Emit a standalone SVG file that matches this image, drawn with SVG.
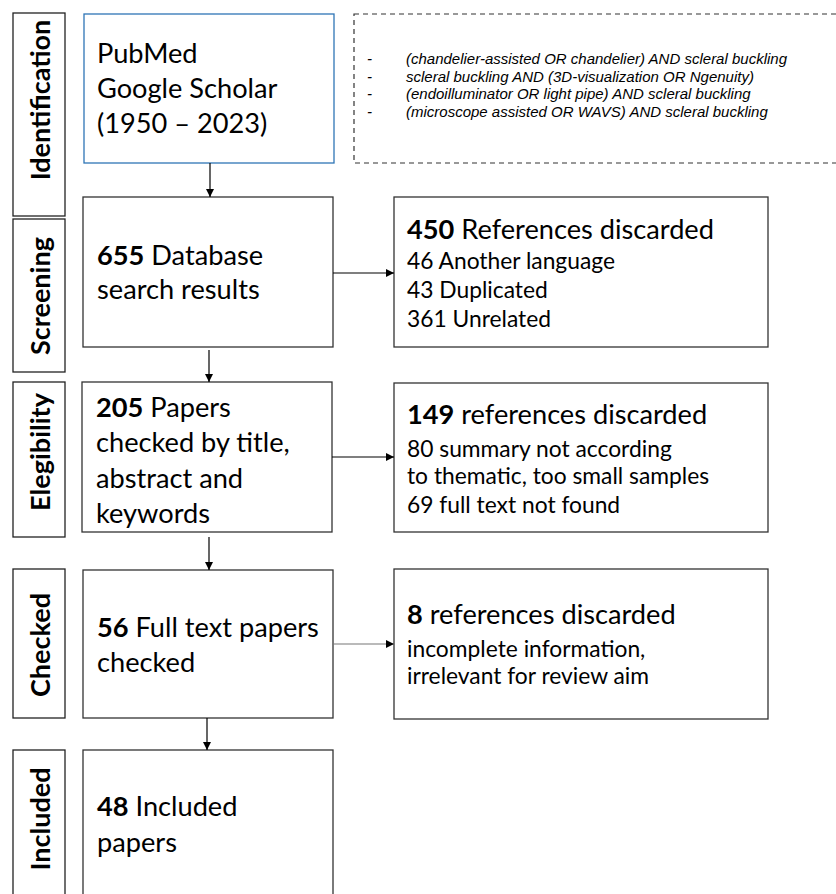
<svg xmlns="http://www.w3.org/2000/svg" width="836" height="894" viewBox="0 0 836 894">
<style>
.lbl{fill:#fff;stroke:#222;stroke-width:1.3}
.box{fill:#fff;stroke:#333;stroke-width:1.3}
.blue{fill:#fff;stroke:#2e75b6;stroke-width:1.3}
.dash{fill:none;stroke:#333;stroke-width:1.2;stroke-dasharray:5,4}
.lt{font-family:Lato,"Liberation Sans",sans-serif;font-weight:bold;font-size:27px;fill:#000}
.t{font-family:Lato,"Liberation Sans",sans-serif;font-size:27.2px;fill:#000}
.s{font-family:Lato,"Liberation Sans",sans-serif;font-size:22.8px;fill:#000}
.q{font-family:"Liberation Sans",Arial,sans-serif;font-size:15px;font-style:italic;fill:#000}
.b{font-weight:bold}
.c{stroke:#000;stroke-width:1.2;fill:none;marker-end:url(#ah)}
</style>
<defs>
<marker id="ah" viewBox="0 0 10 10" refX="10" refY="5" markerWidth="8" markerHeight="8" markerUnits="userSpaceOnUse" orient="auto">
<path d="M0,0 L10,5 L0,10 z" fill="#000"/>
</marker>
</defs>
<rect width="836" height="894" fill="#fff"/>

<g id="label-identification"><rect class="lbl" x="13" y="13" width="52" height="203"/><text class="lt" transform="translate(50,100) rotate(-90)" text-anchor="middle">Identification</text></g>
<g id="label-screening"><rect class="lbl" x="13" y="219" width="52" height="153"/><text class="lt" transform="translate(50,296) rotate(-90)" text-anchor="middle">Screening</text></g>
<g id="label-elegibility"><rect class="lbl" x="13" y="382" width="52" height="155"/><text class="lt" transform="translate(50,452) rotate(-90)" text-anchor="middle">Elegibility</text></g>
<g id="label-checked"><rect class="lbl" x="13" y="569" width="52" height="149"/><text class="lt" transform="translate(50,645) rotate(-90)" text-anchor="middle">Checked</text></g>
<g id="label-included"><rect class="lbl" x="13" y="750" width="52" height="160"/><text class="lt" transform="translate(50,819) rotate(-90)" text-anchor="middle">Included</text></g>

<g id="sources"><rect class="blue" x="84" y="14" width="250" height="149"/>
<text class="t" x="97" y="63">PubMed</text>
<text class="t" x="97" y="98">Google Scholar</text>
<text class="t" x="97" y="133">(1950 – 2023)</text></g>

<g id="search-terms"><rect class="dash" x="354" y="14" width="500" height="149"/>
<text class="q" x="367" y="64">-</text><text class="q" x="406" y="64">(chandelier-assisted OR chandelier) AND scleral buckling</text>
<text class="q" x="367" y="81.5">-</text><text class="q" x="406" y="81.5">scleral buckling AND (3D-visualization OR Ngenuity)</text>
<text class="q" x="367" y="99">-</text><text class="q" x="406" y="99">(endoilluminator OR light pipe) AND scleral buckling</text>
<text class="q" x="367" y="116.5">-</text><text class="q" x="406" y="116.5">(microscope assisted OR WAVS) AND scleral buckling</text></g>

<g id="screening"><rect class="box" x="83" y="197" width="250" height="150"/>
<text class="t" x="97" y="265"><tspan class="b">655</tspan> Database</text>
<text class="t" x="97" y="299">search results</text></g>

<g id="discard-450"><rect class="box" x="394" y="197" width="374" height="150"/>
<text class="t" x="407" y="239"><tspan class="b">450</tspan> References discarded</text>
<text class="s" x="407" y="269">46 Another language</text>
<text class="s" x="407" y="298">43 Duplicated</text>
<text class="s" x="407" y="327">361 Unrelated</text></g>

<g id="eligibility"><rect class="box" x="82" y="382" width="250" height="150"/>
<text class="t" x="96" y="417"><tspan class="b">205</tspan> Papers</text>
<text class="t" x="96" y="452">checked by title,</text>
<text class="t" x="96" y="488">abstract and</text>
<text class="t" x="96" y="523">keywords</text></g>

<g id="discard-149"><rect class="box" x="394" y="383" width="374" height="149"/>
<text class="t" x="407" y="424"><tspan class="b">149</tspan> references discarded</text>
<text class="s" x="407" y="457">80 summary not according</text>
<text class="s" x="407" y="484">to thematic, too small samples</text>
<text class="s" x="407" y="513">69 full text not found</text></g>

<g id="checked"><rect class="box" x="83" y="570" width="250" height="148"/>
<text class="t" x="97" y="637"><tspan class="b">56</tspan> Full text papers</text>
<text class="t" x="97" y="672">checked</text></g>

<g id="discard-8"><rect class="box" x="394" y="569" width="374" height="150"/>
<text class="t" x="407" y="624"><tspan class="b">8</tspan> references discarded</text>
<text class="s" x="407" y="657">incomplete information,</text>
<text class="s" x="407" y="684">irrelevant for review aim</text></g>

<g id="included"><rect class="box" x="83" y="750" width="250" height="160"/>
<text class="t" x="97" y="816"><tspan class="b">48</tspan> Included</text>
<text class="t" x="97" y="852">papers</text></g>

<g id="connectors">
<line class="c" x1="210" y1="163" x2="210" y2="197"/>
<line class="c" x1="333" y1="273" x2="394" y2="273"/>
<line class="c" x1="209" y1="350" x2="209" y2="382"/>
<line class="c" x1="332" y1="457" x2="394" y2="457"/>
<line class="c" x1="209" y1="537" x2="209" y2="570"/>
<line class="c" x1="333" y1="644" x2="394" y2="644" style="stroke:#777"/>
<line class="c" x1="207" y1="718" x2="207" y2="750"/>
</g>
</svg>
